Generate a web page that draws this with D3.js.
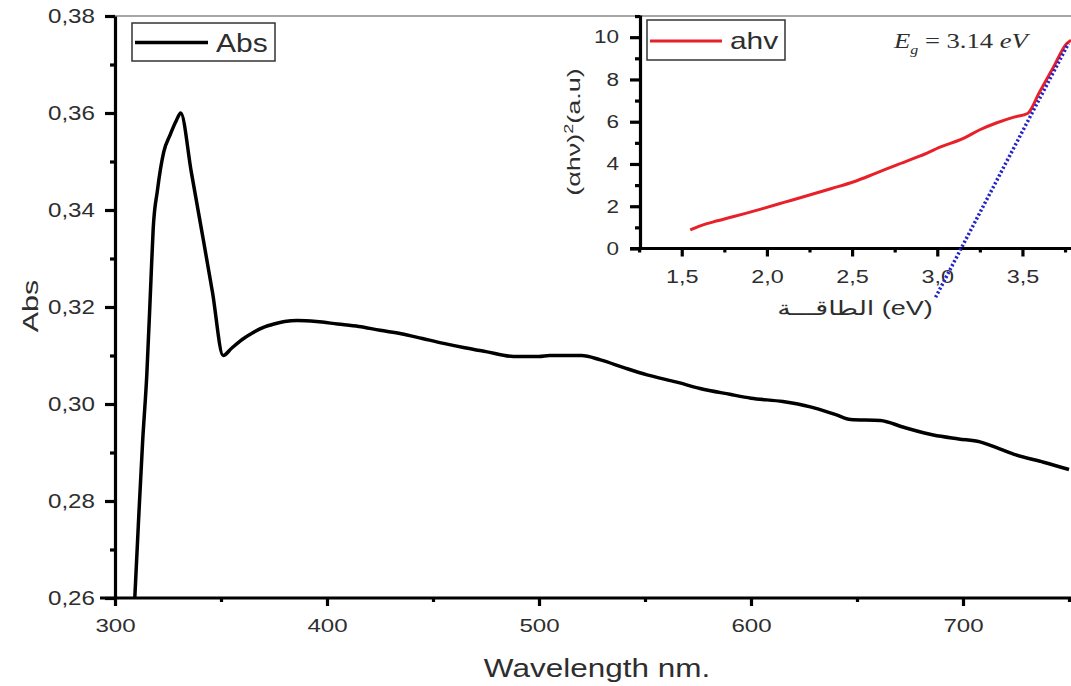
<!DOCTYPE html>
<html>
<head>
<meta charset="utf-8">
<script src="https://cdn.jsdelivr.net/npm/d3@7"></script>
<style>
  html, body { margin: 0; padding: 0; background: #fff; }
  svg { display: block; font-family: "Liberation Sans", Arial, "DejaVu Sans", sans-serif; }
  .axis path.domain, .axis .tick line { stroke: #000; stroke-width: 3.2px; }
</style>
</head>
<body>
<svg id="chart" width="1071" height="686"></svg>
<script>
// ---------- Data ----------
const wavelength = [309, 311, 313, 315, 317, 318, 320, 323, 326, 329, 331, 336, 341, 346, 351,
  355, 360, 365, 370, 375, 380, 386, 395, 405, 415, 425, 435, 445, 455, 465, 475, 488,
  500, 505, 520, 529, 540, 551, 565, 576, 590, 600, 615, 628, 640, 647, 661, 672, 686,
  698, 708, 717, 725, 738, 750];
const absorbance = [0.257, 0.275, 0.292, 0.306, 0.326, 0.336, 0.344, 0.352, 0.3555, 0.3585, 0.360, 0.3478, 0.3355, 0.323, 0.310,
  0.3115, 0.3133, 0.3147, 0.3158, 0.3165, 0.3170, 0.3172, 0.3170, 0.3165, 0.3160, 0.3152, 0.3145, 0.3135, 0.3125, 0.3116, 0.3108, 0.3098,
  0.3098, 0.3100, 0.3100, 0.3091, 0.3075, 0.3060, 0.3045, 0.3032, 0.3020, 0.3012, 0.3005, 0.2994, 0.2978, 0.2968, 0.2966, 0.2952, 0.2936,
  0.2928, 0.2922, 0.2908, 0.2895, 0.2880, 0.2865];

const energy = [1.55, 1.60, 1.69, 1.80, 1.98, 2.10, 2.25, 2.38, 2.51, 2.63, 2.76, 2.90, 3.02, 3.15, 3.25, 3.35, 3.45, 3.53, 3.60, 3.68, 3.76, 3.785];
const ahv =    [0.88, 1.05, 1.27, 1.50, 1.90, 2.18, 2.53, 2.84, 3.16, 3.53, 3.95, 4.38, 4.81, 5.20, 5.62, 5.95, 6.22, 6.39, 7.40, 8.55, 9.70, 9.86];

const fitEnergy = [2.99, 3.77];
const fitValue = [-2.31, 9.70];

const mainXTicks = [300, 400, 500, 600, 700];
const mainXMinor = [350, 450, 550, 650, 750];
const mainYTicks = [0.26, 0.28, 0.30, 0.32, 0.34, 0.36, 0.38];
const mainYMinor = [0.27, 0.29, 0.31, 0.33, 0.35, 0.37];
const insetXTicks = [1.5, 2.0, 2.5, 3.0, 3.5];
const insetXMinor = [1.25, 1.75, 2.25, 2.75, 3.25, 3.75];
const insetYTicks = [0, 2, 4, 6, 8, 10];
const insetYMinor = [1, 3, 5, 7, 9, 11];

const mainSeriesName = "Abs";
const insetSeriesName = "ahv";

// ---------- Setup ----------
const svg = d3.select("#chart");
const comma = v => d3.format(".2f")(v).replace(".", ",");
const comma1 = v => d3.format(".1f")(v).replace(".", ",");
const TXT = "#2e2e2e";

// Main scales
const x = d3.scaleLinear().domain([300, 750]).range([115, 1069]);
const y = d3.scaleLinear().domain([0.26, 0.38]).range([598, 16]);

// top gray frame line
svg.append("line").attr("x1", 115).attr("x2", 1071).attr("y1", 16).attr("y2", 16)
  .attr("stroke", "#8a8a8a").attr("stroke-width", 1.6);

svg.append("defs").append("clipPath").attr("id", "mainclip")
  .append("rect").attr("x", 115).attr("y", 16).attr("width", 956).attr("height", 582);

function minor(g) { g.select(".domain").remove(); }

// main y axis
const gy = svg.append("g").attr("class", "axis").attr("transform", "translate(115,0)")
  .call(d3.axisLeft(y).tickValues(mainYTicks).tickSize(10).tickSizeOuter(0).tickFormat(comma));
gy.selectAll("text").attr("fill", TXT).style("font-size", "19.5px")
  .attr("x", null).attr("transform", "translate(-20,0) scale(1.24,1)");
svg.append("g").attr("class", "axis").attr("transform", "translate(115,0)")
  .call(d3.axisLeft(y).tickValues(mainYMinor).tickSize(5).tickSizeOuter(0).tickFormat("")).call(minor);

// main x axis
const gx = svg.append("g").attr("class", "axis").attr("transform", "translate(0,598)")
  .call(d3.axisBottom(x).tickValues(mainXTicks).tickSize(8).tickSizeOuter(0).tickFormat(d3.format("d")));
gx.select(".domain").attr("d", "M100,0H1071");
gx.selectAll("text").attr("fill", TXT).style("font-size", "19px")
  .attr("y", null).attr("dy", null).attr("transform", "translate(0,34) scale(1.27,1)");
svg.append("g").attr("class", "axis").attr("transform", "translate(0,598)")
  .call(d3.axisBottom(x).tickValues(mainXMinor).tickSize(4).tickSizeOuter(0).tickFormat("")).call(minor);

// main line
svg.append("path")
  .datum(wavelength.map((w, i) => [w, absorbance[i]]))
  .attr("clip-path", "url(#mainclip)")
  .attr("fill", "none").attr("stroke", "#000").attr("stroke-width", 3.5)
  .attr("stroke-linejoin", "round")
  .attr("d", d3.line().x(d => x(d[0])).y(d => y(d[1])).curve(d3.curveMonotoneX));

// axis titles
svg.append("text").attr("transform", "translate(597,677) scale(1.26,1)")
  .attr("text-anchor", "middle").attr("fill", TXT).style("font-size", "25px")
  .text("Wavelength nm.");
svg.append("text").attr("transform", "translate(38,306) rotate(-90) scale(1.45,1.05)")
  .attr("text-anchor", "middle").attr("fill", TXT).style("font-size", "21px")
  .text("Abs");

// main legend
const lg = svg.append("g");
lg.append("rect").attr("x", 132).attr("y", 23).attr("width", 143).attr("height", 38)
  .attr("fill", "#fff").attr("stroke", "#333").attr("stroke-width", 1.5);
lg.append("line").attr("x1", 135).attr("x2", 208).attr("y1", 42.5).attr("y2", 42.5)
  .attr("stroke", "#000").attr("stroke-width", 3.5);
lg.append("text").attr("transform", "translate(216,51.5) scale(1.2,1)")
  .attr("fill", TXT).style("font-size", "25px").text(mainSeriesName);

// ---------- Inset ----------
const xi = d3.scaleLinear().domain([1.255, 3.785]).range([640, 1071]);
const yi = d3.scaleLinear().domain([0, 11.05]).range([248.5, 15]);

const giy = svg.append("g").attr("class", "axis").attr("transform", "translate(640,0)")
  .call(d3.axisLeft(yi).tickValues(insetYTicks).tickSize(10).tickSizeOuter(0).tickFormat(d3.format("d")));
giy.selectAll("text").attr("fill", TXT).style("font-size", "18px")
  .attr("x", null).attr("transform", "translate(-21,0) scale(1.25,1)");
svg.append("g").attr("class", "axis").attr("transform", "translate(640,0)")
  .call(d3.axisLeft(yi).tickValues(insetYMinor).tickSize(5).tickSizeOuter(0).tickFormat("")).call(minor);

const gix = svg.append("g").attr("class", "axis").attr("transform", "translate(0,248.5)")
  .call(d3.axisBottom(xi).tickValues(insetXTicks).tickSize(8).tickSizeOuter(0).tickFormat(comma1));
gix.select(".domain").attr("d", "M630,0H1071");
gix.selectAll("text").attr("fill", TXT).style("font-size", "18px")
  .attr("y", null).attr("dy", null).attr("transform", "translate(0,34) scale(1.3,1)");
svg.append("g").attr("class", "axis").attr("transform", "translate(0,248.5)")
  .call(d3.axisBottom(xi).tickValues(insetXMinor).tickSize(4).tickSizeOuter(0).tickFormat("")).call(minor);

// inset red curve
svg.append("path")
  .datum(energy.map((e, i) => [e, ahv[i]]))
  .attr("fill", "none").attr("stroke", "#e8202a").attr("stroke-width", 3)
  .attr("stroke-linejoin", "round")
  .attr("d", d3.line().x(d => xi(d[0])).y(d => yi(d[1])).curve(d3.curveMonotoneX));

// blue dotted fit line
svg.append("path")
  .datum(fitEnergy.map((e, i) => [e, fitValue[i]]))
  .attr("fill", "none").attr("stroke", "#2323c8").attr("stroke-width", 3.5)
  .attr("stroke-dasharray", "2.2,2.2")
  .attr("d", d3.line().x(d => xi(d[0])).y(d => yi(d[1])));

// inset titles
svg.append("text").attr("transform", "translate(855,315) scale(1.35,1)")
  .attr("text-anchor", "middle").attr("fill", TXT).style("font-size", "20px")
  .style("font-family", "'Liberation Sans', 'DejaVu Sans', sans-serif")
  .text("الطاقـــة (eV)");

const yl = svg.append("text").attr("transform", "translate(580,132) rotate(-90) scale(1.5,1.05)")
  .attr("text-anchor", "middle").attr("fill", TXT).style("font-size", "18px");
yl.append("tspan").text("(αhν)");
yl.append("tspan").attr("dy", -7).style("font-size", "12px").text("2");
yl.append("tspan").attr("dy", 7).text("(a.u)");

// inset legend
const lg2 = svg.append("g");
lg2.append("rect").attr("x", 647).attr("y", 20).attr("width", 138).attr("height", 40)
  .attr("fill", "#fff").attr("stroke", "#333").attr("stroke-width", 1.5);
lg2.append("line").attr("x1", 650).attr("x2", 722).attr("y1", 41).attr("y2", 41)
  .attr("stroke", "#e8202a").attr("stroke-width", 3);
lg2.append("text").attr("transform", "translate(730,49) scale(1.3,1)")
  .attr("fill", TXT).style("font-size", "23px").text(insetSeriesName);

// equation
const eq = svg.append("text").attr("transform", "translate(894,48) scale(1.33,1)")
  .attr("fill", TXT).style("font-family", "'Liberation Serif', 'Times New Roman', serif")
  .style("font-size", "20px");
eq.append("tspan").style("font-style", "italic").text("E");
eq.append("tspan").attr("dy", 6).style("font-size", "12px").style("font-style", "italic").text("g");
eq.append("tspan").attr("dy", -6).text(" = 3.14  ");
eq.append("tspan").style("font-style", "italic").text("eV");
</script>
</body>
</html>
